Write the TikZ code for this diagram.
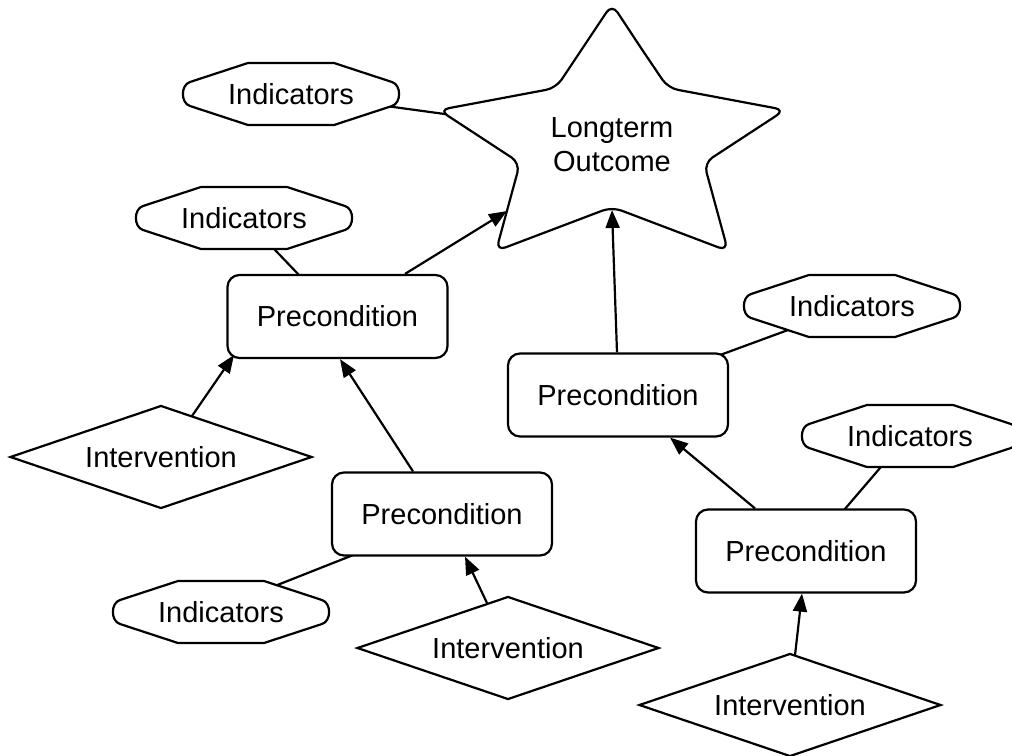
\documentclass[tikz,border=0pt]{standalone}
\usepackage{fontspec}
\setmainfont{Liberation Sans}
\usetikzlibrary{arrows.meta,shapes.geometric,backgrounds}
\tikzset{
  every node/.style={font=\fontsize{14.5pt}{17pt}\selectfont},
  shapeline/.style={draw=black, line width=1.1pt, fill=white},
  precond/.style={shapeline, rounded corners=6pt, minimum width=110pt, minimum height=41.5pt, inner sep=0pt},
  interv/.style={shapeline, diamond, aspect=2.9, minimum width=151pt, minimum height=51.5pt, inner sep=0pt},
  indtext/.style={inner sep=0pt},
  link/.style={draw=black, line width=1.1pt},
  arrow/.style={draw=black, line width=1.1pt, -{Triangle[length=9pt,width=7pt]}},
  indic/.pic={\draw[shapeline] (-43,-31) -- (43,-31) -- (101,-12) .. controls (110.5,-9) and (110.5,9) .. (101,12) -- (43,31) -- (-43,31) -- (-101,12) .. controls (-110.5,9) and (-110.5,-9) .. (-101,-12) -- cycle;}
}
\begin{document}
\begin{tikzpicture}[x=0.5pt,y=-0.5pt]
\useasboundingbox (0,0) rectangle (1012,755);
% star
\draw[shapeline, rounded corners=5pt, shift={(612,145)}] (28,-98.5) -- (56,-57) -- (173,-35) -- (92,18) -- (116,106) -- (0,62) -- (-116,106) -- (-92,18) -- (-173,-35) -- (-56,-57) -- (0,-141) -- cycle;
\node[align=center, inner sep=0pt] (star) at (612,145) {Longterm\\Outcome};
% indicators
\pic at (291,94) {indic};
\node[indtext] (i1) at (291,94) {Indicators};
\pic at (244,218) {indic};
\node[indtext] (i2) at (244,218) {Indicators};
\pic at (221,612) {indic};
\node[indtext] (i3) at (221,612) {Indicators};
\pic at (852,306) {indic};
\node[indtext] (i4) at (852,306) {Indicators};
\pic at (910,436) {indic};
\node[indtext] (i5) at (910,436) {Indicators};
% preconditions
\node[precond] (p1) at (337.5,316.5) {Precondition};
\node[precond] (p2) at (442,514) {Precondition};
\node[precond] (p3) at (618,395) {Precondition};
\node[precond] (p4) at (806,551) {Precondition};
% interventions
\node[interv] (v1) at (161,457) {Intervention};
\node[interv] (v2) at (508,648) {Intervention};
\node[interv] (v3) at (790,705) {Intervention};
% plain links behind shapes
\begin{pgfonlayer}{background}
\draw[link] ([shift={(95,12)}]i1.center) -- ([shift={(-160,-30)}]star.center);
\draw[link] ([shift={(28.3,29.1)}]i2.center) -- ([shift={(-36.8,2.9)}]p1.north);
\draw[link] ([shift={(51.8,-25.2)}]i3.center) -- ([shift={(-89.5,-1.3)}]p2.south);
\draw[link] ([shift={(99.4,3.6)}]p3.north) -- ([shift={(-59.3,22.3)}]i4.center);
\draw[link] ([shift={(36.4,3.5)}]p4.north) -- ([shift={(-27.4,29)}]i5.center);
\end{pgfonlayer}
% arrows
\draw[arrow] ([shift={(67.5,0)}]p1.north) -- ([shift={(-105,66)}]star.center);
\draw[arrow] ([shift={(31,-41)}]v1.center) -- ([shift={(-103.5,38.5)}]p1.center);
\draw[arrow] ([shift={(-29,0)}]p2.north) -- ([shift={(2.5,0)}]p1.south);
\draw[arrow] ([shift={(-21,-45)}]v2.center) -- ([shift={(23,0)}]p2.south);
\draw[arrow] ([shift={(-1,0)}]p3.north) -- ([shift={(0,65)}]star.center);
\draw[arrow] ([shift={(-51,0)}]p4.north) -- ([shift={(52,0)}]p3.south);
\draw[arrow] ([shift={(5,-49.8)}]v3.center) -- ([shift={(-4,0)}]p4.south);
\end{tikzpicture}
\end{document}
